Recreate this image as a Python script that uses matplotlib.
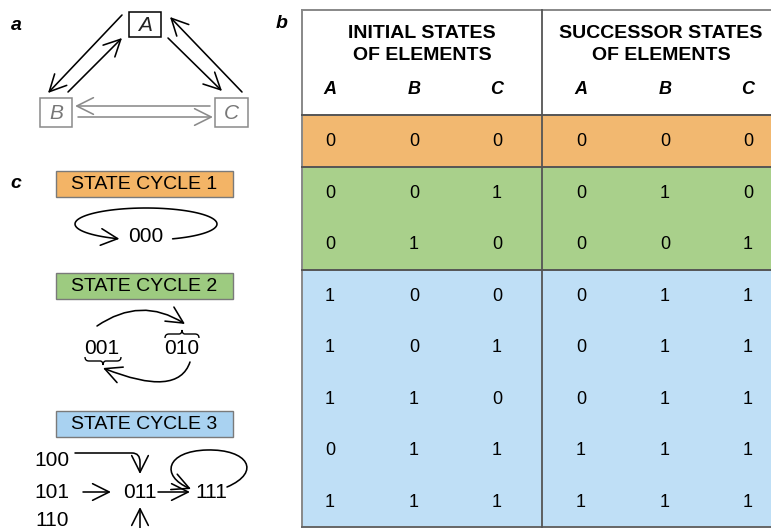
import matplotlib
matplotlib.use("Agg")
import matplotlib.pyplot as plt
from matplotlib.patches import Rectangle, FancyArrowPatch
from matplotlib.path import Path
import numpy as np

plt.rcParams['font.family'] = ['Liberation Sans', 'DejaVu Sans']

# truth table of the three-element network
elements = ["A", "B", "C"]
initial_states = ["000", "001", "010", "100", "101", "110", "011", "111"]
successor_states = ["000", "010", "001", "011", "011", "011", "111", "111"]
row_cycle = [1, 2, 2, 3, 3, 3, 3, 3]
cycle_names = ["STATE CYCLE 1", "STATE CYCLE 2", "STATE CYCLE 3"]
band_colors = ["#F2B870", "#A9D08B", "#BFDFF6"]
label_colors = ["#F3B466", "#9DCB80", "#A9D2F1"]

fig = plt.figure(figsize=(7.71, 5.28), dpi=100)
ax = fig.add_axes([0, 0, 1, 1])
ax.set_xlim(0, 771)
ax.set_ylim(528, 0)
ax.axis("off")

HEAD = "->,head_length=0.6,head_width=0.3"


def arrow(verts, codes=None, color="black", lw=1.15):
    p = Path(verts, codes)
    a = FancyArrowPatch(path=p, arrowstyle=HEAD, mutation_scale=20,
                        lw=lw, color=color, capstyle="round")
    ax.add_patch(a)


def line(verts, codes=None, color="black", lw=1.1):
    p = Path(verts, codes)
    ax.add_patch(matplotlib.patches.PathPatch(p, fill=False, lw=lw, ec=color))


# ---------------- panel labels
for lab, x, y in [("a", 16, 26), ("b", 282, 23), ("c", 16, 183)]:
    ax.text(x, y, lab, fontsize=14, fontweight="bold", fontstyle="italic",
            ha="center", va="center")

# ---------------- panel a: network of elements
gray = "#8a8a8a"
boxes = {"A": (129, 12, 32, 25, "black"), "B": (40, 98, 32, 29, gray),
         "C": (215, 98, 33, 29, gray)}
for name, (x, y, w, h, c) in boxes.items():
    ax.add_patch(Rectangle((x, y), w, h, fill=False, ec=c, lw=1.1))
    ax.text(x + w / 2, y + h / 2 + 1, name, fontsize=15, fontstyle="italic",
            color="#222" if c == "black" else "#777", ha="center", va="center")

arrow([(122, 15), (48, 93)])
arrow([(68, 92), (122, 38)])
arrow([(168, 38), (222, 91)])
arrow([(242, 92), (170, 17)])
arrow([(210, 106), (75, 106)], color=gray)
arrow([(78, 117), (213, 117)], color=gray)

# ---------------- panel c: state cycles
for i, (name, y) in enumerate(zip(cycle_names, [171, 273, 411])):
    ax.add_patch(Rectangle((56, y), 177, 26, fc=label_colors[i], ec="#7a7a7a", lw=1.0))
    ax.text(144.5, y + 13.5, name, fontsize=14, ha="center", va="center")

num_fs = 15
# cycle 1
ax.text(146, 237, initial_states[0], fontsize=num_fs, ha="center", va="center")
t = np.radians(np.linspace(68, -248, 80))
loop = np.column_stack([146 + 71 * np.cos(t), 224 + 16 * np.sin(t)])
arrow(loop)

# cycle 2
ax.text(102, 348, initial_states[1], fontsize=num_fs, ha="center", va="center")
ax.text(182, 348, initial_states[2], fontsize=num_fs, ha="center", va="center")
arrow([(97, 326), (141, 296), (185, 324)], [Path.MOVETO, Path.CURVE3, Path.CURVE3])
arrow([(190, 362), (178, 398), (103, 368)], [Path.MOVETO, Path.CURVE3, Path.CURVE3])
# braces
C3 = [Path.MOVETO, Path.CURVE3, Path.CURVE3, Path.LINETO, Path.CURVE3, Path.CURVE3,
      Path.CURVE3, Path.CURVE3, Path.LINETO, Path.CURVE3, Path.CURVE3]
line([(165, 338), (165, 334), (169, 334), (179, 334), (182, 334), (182, 330),
      (182, 334), (185, 334), (195, 334), (199, 334), (199, 338)], C3, lw=1.0)
line([(85, 357), (85, 361), (89, 361), (100, 361), (103, 361), (103, 365),
      (103, 361), (106, 361), (117, 361), (121, 361), (121, 357)], C3, lw=1.0)

# cycle 3
for s, y in zip(initial_states[3:6], [460, 492, 520]):
    ax.text(52, y, s, fontsize=num_fs, ha="center", va="center")
ax.text(140, 492, initial_states[6], fontsize=num_fs, ha="center", va="center")
ax.text(211, 492, initial_states[7], fontsize=num_fs, ha="center", va="center")
arrow([(75, 453), (132, 453), (140, 453), (140, 462), (140, 474)],
      [Path.MOVETO, Path.LINETO, Path.CURVE3, Path.CURVE3, Path.LINETO])
arrow([(83, 492), (111, 492)])
arrow([(158, 492), (190, 492)])
arrow([(140, 529), (140, 507)])
arrow([(227, 487), (262, 472), (248, 449), (207, 450),
       (166, 451), (160, 476), (191, 489)],
      [Path.MOVETO, Path.CURVE4, Path.CURVE4, Path.CURVE4,
       Path.CURVE4, Path.CURVE4, Path.CURVE4])

# ---------------- panel b: table
top, head_bot, row_h = 10, 115, 51.5
left, mid, right = 302, 542, 790
col_x = [330, 414, 497, 581, 665, 748]
n = len(initial_states)
bottom = head_bot + n * row_h

for i in range(n):
    y0 = head_bot + i * row_h
    ax.add_patch(Rectangle((left, y0), right - left, row_h,
                           fc=band_colors[row_cycle[i] - 1], ec="none"))
    for j, ch in enumerate(initial_states[i] + successor_states[i]):
        ax.text(col_x[j], y0 + row_h / 2 + 1, ch, fontsize=13,
                ha="center", va="center")

edge = "#555555"
ax.plot([left, right], [top, top], color="#888", lw=1.4)
ax.plot([left, left], [top, bottom], color="#888", lw=1.4)
ax.plot([left, right], [bottom, bottom], color="#666", lw=1.4)
ax.plot([mid, mid], [top, bottom], color=edge, lw=1.3)
ax.plot([left, right], [head_bot, head_bot], color=edge, lw=1.4)
for i in range(1, n):
    if row_cycle[i] != row_cycle[i - 1]:
        yb = head_bot + i * row_h
        ax.plot([left, right], [yb, yb], color=edge, lw=1.4)

for cx, title in [((left + mid) / 2, "INITIAL STATES"), (661, "SUCCESSOR STATES")]:
    ax.text(cx, 33, title, fontsize=14, fontweight="bold", ha="center", va="center")
    ax.text(cx, 55, "OF ELEMENTS", fontsize=14, fontweight="bold", ha="center", va="center")
for j, x in enumerate(col_x):
    ax.text(x, 89, elements[j % 3], fontsize=13, fontweight="bold",
            fontstyle="italic", ha="center", va="center")

fig.savefig("out.png", dpi=100)
